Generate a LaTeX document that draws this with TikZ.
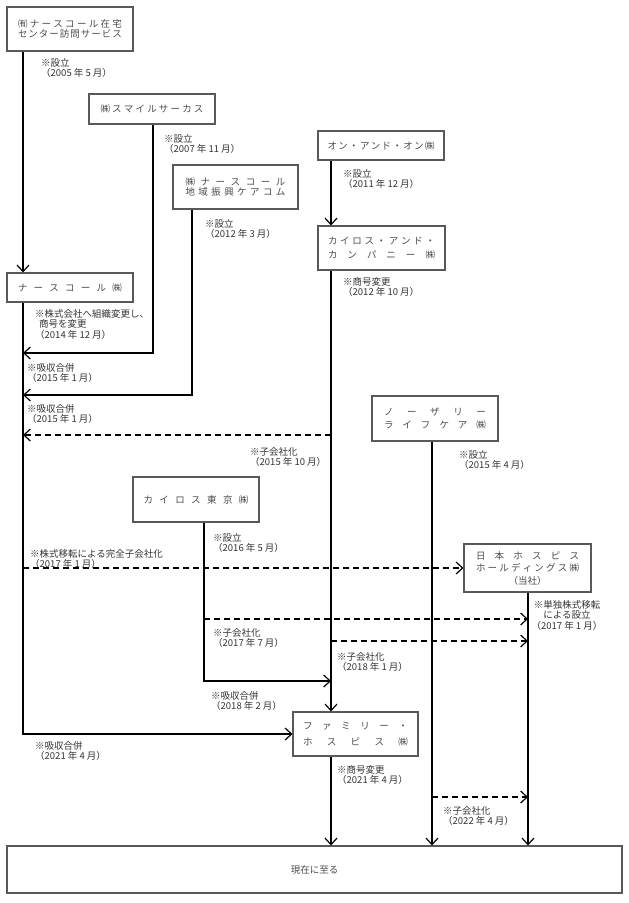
\documentclass[tikz,border=0pt]{standalone}
\usepackage{fontspec}
\setmainfont{Noto Sans CJK JP}
\usetikzlibrary{arrows.meta}
\newcommand{\spreadtext}[2]{\makebox[#1][s]{\spaceskip=0pt plus 1fil\relax #2}}

\begin{document}
\begin{tikzpicture}[x=1pt,y=-1pt]
        % Common styles
        \tikzstyle{box}=[draw=black!65, line width=1.1pt, fill=white, inner sep=0pt, minimum width=126pt, align=center, text=black!70, font=\fontsize{9.5}{10.5}\selectfont]
        \tikzstyle{note}=[anchor=north west, align=left, inner sep=0pt, text=black!80, font=\fontsize{9.5}{10.5}\selectfont]
        \tikzstyle{flow}=[line width=1.2pt, -{Straight Barb[length=6.5pt,width=12pt]}]
        \tikzstyle{subflow}=[flow, dash pattern=on 6pt off 4pt]

        \useasboundingbox (0,0) rectangle (629,903);

        % --- vertical tracks ---
        \coordinate (tA) at (23,0);
        \coordinate (tB) at (153,0);
        \coordinate (tC) at (192,0);
        \coordinate (tD) at (331,0);
        \coordinate (tE) at (432,0);
        \coordinate (tF) at (204,0);
        \coordinate (tG) at (528,0);

        % --- companies ---
        \node[box, minimum height=44pt] (zaitaku) at (70,29) {\spreadtext{104pt}{㈲ ナ ー ス コ ー ル 在 宅}\\[-1pt]\spreadtext{104pt}{セ ン タ ー 訪 問 サ ー ビ ス}};
        \node[box, minimum height=30pt] (smile) at (152,109) {\spreadtext{103pt}{㈱ ス マ イ ル サ ー カ ス}};
        \node[box, minimum width=125pt, minimum height=44pt] (chiiki) at (235.5,187) {\spreadtext{100pt}{㈱ ナ ー ス コ ー ル}\\\spreadtext{100pt}{地 域 振 興 ケ ア コ ム}};
        \node[box, minimum height=29pt] (onandon) at (381,145.5) {\spreadtext{107pt}{オ ン ・ ア ン ド ・ オ ン ㈱}};
        \node[box, minimum width=127pt, minimum height=44pt] (kairos) at (381.5,248) {\spreadtext{107pt}{カ イ ロ ス ・ ア ン ド ・}\\[4pt]\spreadtext{107pt}{カ ン パ ニ ー ㈱}};
        \node[box, minimum height=29pt] (nursecall) at (70,287.5) {\spreadtext{104pt}{ナ ー ス コ ー ル ㈱}};
        \node[box, minimum height=45pt] (nozari) at (435,418.5) {\spreadtext{102pt}{ノ ー ザ リ ー}\\[2pt]\spreadtext{102pt}{ラ イ フ ケ ア ㈱}};
        \node[box, minimum height=45pt] (tokyo) at (196,499.5) {\spreadtext{105pt}{カ イ ロ ス 東 京 ㈱}};
        \node[box, minimum width=127pt, minimum height=48pt] (nihon) at (527.5,568) {\spreadtext{103pt}{日 本 ホ ス ピ ス}\\[2pt]\spreadtext{103pt}{ホ ー ル デ ィ ン グ ス ㈱}\\[2pt]（当社）};
        \node[box, minimum width=125pt, minimum height=44pt] (family) at (355.5,734) {\spreadtext{105pt}{フ ァ ミ リ ー ・}\\[6pt]\spreadtext{105pt}{ホ ス ピ ス ㈱}};
        \node[box, minimum width=615pt, minimum height=47pt] (genzai) at (314.5,869.5) {現在に至る};

        % --- join points ---
        \coordinate (m1) at (23,353);
        \coordinate (m2) at (23,395);
        \coordinate (m3) at (23,435);
        \coordinate (m4) at (331,681);
        \coordinate (m5) at (528,619);
        \coordinate (m6) at (528,641);
        \coordinate (m7) at (528,797);

        % --- solid lines ---
        \draw[flow] (zaitaku.south -| tA) -- (nursecall.north -| tA);
        \draw[flow] (smile.south -| tB) |- (m1);
        \draw[flow] (chiiki.south -| tC) |- (m2);
        \draw[flow] (onandon.south -| tD) -- (kairos.north -| tD);
        \draw[flow] (kairos.south -| tD) -- (family.north -| tD);
        \draw[flow] (nursecall.south -| tA) |- (family.west);
        \draw[flow] (tokyo.south -| tF) |- (m4);
        \draw[flow] (nozari.south -| tE) -- (genzai.north -| tE);
        \draw[flow] (nihon.south -| tG) -- (genzai.north -| tG);
        \draw[flow] (family.south -| tD) -- (genzai.north -| tD);

        % --- dashed lines ---
        \draw[subflow] (m3 -| tD) -- (m3);
        \draw[subflow] (nihon.west -| tA) -- (nihon.west);
        \draw[subflow] (m5 -| tF) -- (m5);
        \draw[subflow] (m6 -| tD) -- (m6);
        \draw[subflow] (m7 -| tE) -- (m7);

        % --- notes ---
        \node[note] (n1) at (41,58) {※設立\\（2005 年 5 月）};
        \node[note] (n2) at (164,134) {※設立\\（2007 年 11 月）};
        \node[note] (n3) at (205,219) {※設立\\（2012 年 3 月）};
        \node[note] (n4) at (343,169) {※設立\\（2011 年 12 月）};
        \node[note] (n5) at (343,277) {※商号変更\\（2012 年 10 月）};
        \node[note] (n6) at (35,309) {※株式会社へ組織変更し、\\\hspace{4pt}商号を変更\\（2014 年 12 月）};
        \node[note] (n7) at (27,363) {※吸収合併\\（2015 年 1 月）};
        \node[note] (n8) at (27,404) {※吸収合併\\（2015 年 1 月）};
        \node[note] (n9) at (250,447) {※子会社化\\（2015 年 10 月）};
        \node[note] (n10) at (459,450) {※設立\\（2015 年 4 月）};
        \node[note] (n11) at (213,533) {※設立\\（2016 年 5 月）};
        \node[note] (n12) at (30,549) {※株式移転による完全子会社化\\（2017 年 1 月）};
        \node[note] (n13) at (213,628) {※子会社化\\（2017 年 7 月）};
        \node[note, anchor=north, align=center] (n14) at (567,600) {※単独株式移転\\による設立\\（2017 年 1 月）};
        \node[note] (n15) at (337,652) {※子会社化\\（2018 年 1 月）};
        \node[note] (n16) at (211,691) {※吸収合併\\（2018 年 2 月）};
        \node[note] (n17) at (35,741) {※吸収合併\\（2021 年 4 月）};
        \node[note] (n18) at (337,765) {※商号変更\\（2021 年 4 月）};
        \node[note] (n19) at (443,806) {※子会社化\\（2022 年 4 月）};

    \end{tikzpicture}
\end{document}
